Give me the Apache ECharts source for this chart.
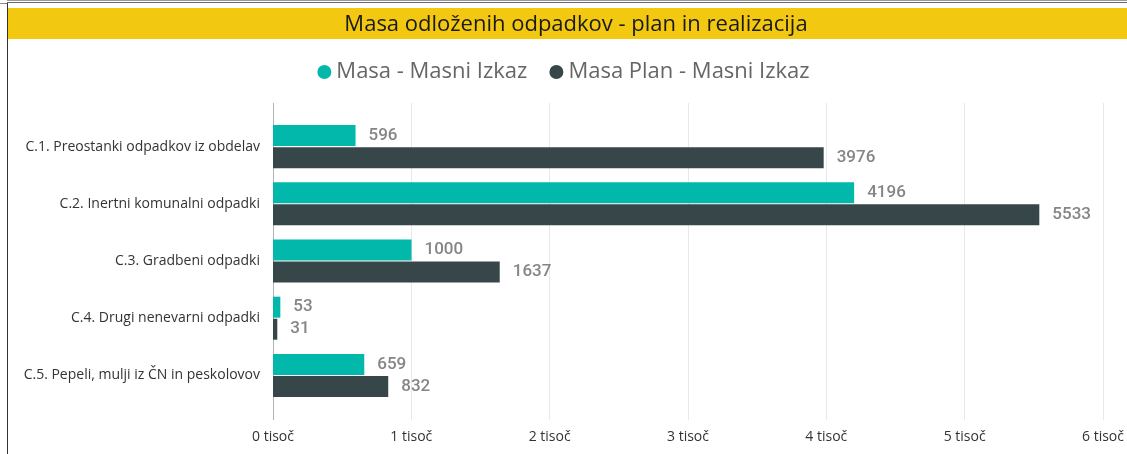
<!DOCTYPE html>
<html>
<head>
<meta charset="utf-8">
<style>
  html, body { margin: 0; padding: 0; background: #fff; }
  #chart-container { width: 1127px; height: 454px; }
</style>
<script src="https://cdn.jsdelivr.net/npm/echarts@6/dist/echarts.min.js"></script>
</head>
<body>
<div id="chart-container"></div>
<script>
// Data
const categories = [
  'C.1. Preostanki odpadkov iz obdelav',
  'C.2. Inertni komunalni odpadki',
  'C.3. Gradbeni odpadki',
  'C.4. Drugi nenevarni odpadki',
  'C.5. Pepeli, mulji iz ČN in peskolovov'
];
const masa = [596, 4196, 1000, 53, 659];
const masaPlan = [3976, 5533, 1637, 31, 832];
const xTicks = [0, 1000, 2000, 3000, 4000, 5000, 6000];

const seriesNames = ['Masa - Masni Izkaz', 'Masa Plan - Masni Izkaz'];
const colors = ['#01B8AA', '#374649'];

const labelStyle = {
  show: true,
  position: 'right',
  distance: 13,
  color: '#858585',
  fontFamily: 'Roboto',
  fontWeight: 500,
  fontSize: 17
};

const chart = echarts.init(document.getElementById('chart-container'));
chart.setOption({
  animation: false,
  backgroundColor: '#fff',
  color: colors,
  graphic: [
    // frame lines and yellow title band
    { type: 'rect', shape: { x: 8, y: 8, width: 1119, height: 31 }, style: { fill: '#F2C811' }, z: -10 },
    { type: 'line', shape: { x1: 7.5, y1: 3, x2: 7.5, y2: 454 }, style: { stroke: '#333', lineWidth: 1 } },
    { type: 'line', shape: { x1: 7, y1: 0.5, x2: 1127, y2: 0.5 }, style: { stroke: '#999', lineWidth: 1 } },
    { type: 'line', shape: { x1: 7, y1: 2.5, x2: 1127, y2: 2.5 }, style: { stroke: '#666', lineWidth: 1 } },
    { type: 'line', shape: { x1: 0, y1: 3.5, x2: 7, y2: 3.5 }, style: { stroke: '#888', lineWidth: 1 } }
  ],
  title: {
    text: 'Masa odloženih odpadkov - plan in realizacija',
    left: 571,
    textAlign: 'center',
    top: 9,
    textStyle: { fontFamily: 'Open Sans', fontWeight: 'normal', fontSize: 22, color: '#1a1a1a' }
  },
  legend: {
    data: seriesNames,
    top: 56,
    left: 'center',
    icon: 'circle',
    itemWidth: 14,
    itemHeight: 14,
    itemGap: 22,
    textStyle: { fontFamily: 'Open Sans', fontSize: 22, color: '#666' }
  },
  grid: [
    { left: 273, right: 23, top: 103, bottom: 34 },
    { left: 273, right: 23, top: 118, height: 286 }
  ],
  xAxis: [
    {
      gridIndex: 0,
      type: 'value',
      min: xTicks[0],
      max: xTicks[xTicks.length - 1],
      interval: 1000,
      axisLine: { show: false },
      axisTick: { show: false },
      axisLabel: {
        margin: 10,
        color: '#333',
        fontFamily: 'Open Sans',
        fontSize: 14,
        formatter: v => (v / 1000) + ' tisoč'
      },
      splitLine: {
        lineStyle: { color: ['#b3b3b3', '#e8e8e8', '#e8e8e8', '#e8e8e8', '#e8e8e8', '#e8e8e8', '#e8e8e8'] }
      }
    },
    {
      gridIndex: 1,
      type: 'value',
      min: xTicks[0],
      max: xTicks[xTicks.length - 1],
      interval: 1000,
      show: false
    }
  ],
  yAxis: [
    { gridIndex: 0, type: 'value', show: false },
    {
      gridIndex: 1,
      type: 'category',
      inverse: true,
      data: categories,
      axisLine: { show: false },
      axisTick: { show: false },
      axisLabel: { margin: 13, color: '#333', fontFamily: 'Open Sans', fontSize: 14 }
    }
  ],
  series: [
    {
      name: seriesNames[0],
      type: 'bar',
      xAxisIndex: 1,
      yAxisIndex: 1,
      barWidth: 21,
      barGap: '5%',
      data: masa,
      label: labelStyle
    },
    {
      name: seriesNames[1],
      type: 'bar',
      xAxisIndex: 1,
      yAxisIndex: 1,
      barWidth: 21,
      barGap: '5%',
      data: masaPlan,
      label: labelStyle
    }
  ]
});
</script>
</body>
</html>
